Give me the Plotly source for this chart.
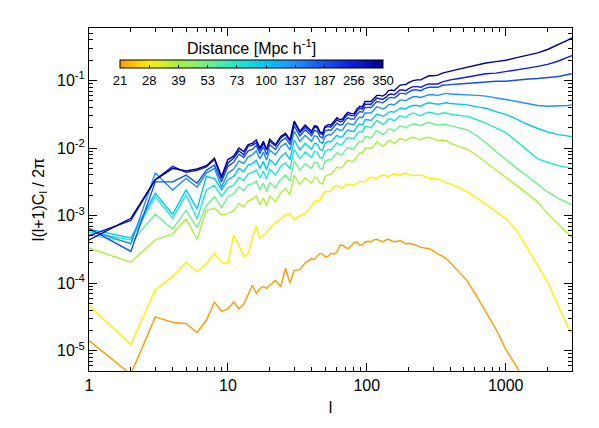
import math
import plotly.graph_objects as go

# multipole grid (shared by all curves)
ell = [1, 2, 3, 4, 5, 6, 7, 8, 9, 10,
       11, 12, 13, 14, 15, 16, 17, 18, 19, 20,
       22, 24, 26, 28, 30, 33, 36,
       40, 42, 44, 46, 48, 50, 53, 55, 58, 61,
       64, 67, 70, 73, 77, 81, 85, 89, 93, 97,
       102, 107, 112, 118, 124, 130, 137, 143, 150, 157,
       165, 173, 182, 191, 200, 215, 230, 245, 260, 280,
       300, 325, 350, 375, 400,
       460, 530, 620, 720, 850, 1000, 1200, 1400, 1700, 2000,
       2400, 2800, 3000]

distance_labels = ["21", "28", "39", "53", "73", "100", "137", "187", "256", "350"]
line_colors = ["#FF9A00", "#FFF000", "#AAF03C", "#70EE8C", "#22E8D0",
               "#00C8F5", "#1E90FF", "#1450F0", "#0A1EDC", "#00008B"]

# log10 of l(l+1)C_l/2pi
log_d21 = [-4.85, -5.35, -4.50, -4.58, -4.60, -4.73, -4.55, -4.28, -4.42, -4.38,
           -4.28, -4.38, -4.31, -4.16, -4.03, -4.15, -4.08, -4.05, -4.08, -4.03,
           -3.96, -4.05, -3.78, -4.00, -3.81, -3.80, -3.70,
           -3.64, -3.65, -3.60, -3.56, -3.57, -3.61, -3.60, -3.56, -3.57, -3.54,
           -3.44, -3.44, -3.47, -3.49, -3.45, -3.40, -3.39, -3.44, -3.43, -3.39,
           -3.38, -3.39, -3.36, -3.35, -3.37, -3.39, -3.36, -3.35, -3.37, -3.39,
           -3.38, -3.37, -3.39, -3.42, -3.41, -3.42, -3.44, -3.47, -3.48, -3.49,
           -3.52, -3.57, -3.60, -3.64, -3.70,
           -3.84, -3.97, -4.20, -4.42, -4.68, -4.98, -5.24, -5.50, -5.85, None,
           None, None, None]
log_d28 = [-4.33, -4.91, -4.10, -3.90, -3.69, -3.83, -3.71, -3.56, -3.69, -3.71,
           -3.29, -3.44, -3.61, -3.56, -3.34, -3.15, -3.34, -3.30, -3.25, -3.19,
           -3.10, -3.05, -2.99, -2.97, -3.06, -3.00, -2.97,
           -2.86, -2.79, -2.78, -2.77, -2.69, -2.65, -2.64, -2.64, -2.57, -2.55,
           -2.58, -2.59, -2.55, -2.53, -2.54, -2.55, -2.52, -2.49, -2.50, -2.50,
           -2.46, -2.43, -2.44, -2.45, -2.42, -2.40, -2.41, -2.42, -2.40, -2.38,
           -2.39, -2.40, -2.38, -2.37, -2.39, -2.41, -2.40, -2.40, -2.42, -2.45,
           -2.45, -2.46, -2.49, -2.52, -2.53,
           -2.59, -2.65, -2.74, -2.83, -2.93, -3.04, -3.22, -3.45, -3.72, -3.98,
           -4.35, -4.65, -4.74]
log_d39 = [-3.48, -3.69, -3.36, -3.27, -3.05, -3.35, -2.92, -2.89, -2.99, -2.97,
           -2.93, -2.82, -2.87, -2.78, -2.76, -2.71, -2.84, -2.74, -2.86, -2.71,
           -2.79, -2.66, -2.60, -2.69, -2.40, -2.54, -2.44,
           -2.52, -2.43, -2.44, -2.52, -2.53, -2.42, -2.39, -2.39, -2.33, -2.28,
           -2.30, -2.28, -2.22, -2.18, -2.20, -2.19, -2.12, -2.07, -2.08, -2.00,
           -1.99, -2.01, -1.97, -1.91, -1.94, -1.97, -1.94, -1.89, -1.90, -1.93,
           -1.90, -1.86, -1.87, -1.89, -1.86, -1.84, -1.86, -1.88, -1.85, -1.84,
           -1.86, -1.89, -1.88, -1.89, -1.93,
           -1.97, -2.02, -2.11, -2.21, -2.33, -2.44, -2.56, -2.66, -2.80, -2.97,
           -3.13, -3.26, -3.32]
log_d53 = [-3.28, -3.40, -2.98, -3.20, -2.92, -3.18, -2.85, -2.72, -2.88, -2.72,
           -2.68, -2.57, -2.63, -2.54, -2.53, -2.49, -2.62, -2.52, -2.65, -2.51,
           -2.59, -2.46, -2.40, -2.49, -2.19, -2.33, -2.23,
           -2.30, -2.21, -2.22, -2.30, -2.31, -2.20, -2.17, -2.18, -2.12, -2.07,
           -2.10, -2.09, -2.03, -1.99, -2.01, -2.01, -1.94, -1.90, -1.91, -1.83,
           -1.83, -1.85, -1.80, -1.74, -1.77, -1.80, -1.77, -1.72, -1.72, -1.75,
           -1.71, -1.67, -1.68, -1.70, -1.67, -1.64, -1.65, -1.67, -1.64, -1.62,
           -1.64, -1.66, -1.65, -1.65, -1.67,
           -1.70, -1.73, -1.82, -1.92, -2.05, -2.17, -2.30, -2.40, -2.54, -2.65,
           -2.75, -2.81, -2.84]
log_d73 = [-3.24, -3.36, -2.72, -3.04, -2.69, -3.05, -2.62, -2.55, -2.72, -2.59,
           -2.55, -2.43, -2.48, -2.38, -2.36, -2.32, -2.44, -2.34, -2.46, -2.31,
           -2.40, -2.27, -2.22, -2.31, -2.02, -2.16, -2.06,
           -2.14, -2.05, -2.06, -2.14, -2.15, -2.05, -2.02, -2.03, -1.97, -1.92,
           -1.95, -1.94, -1.88, -1.84, -1.86, -1.86, -1.79, -1.75, -1.76, -1.68,
           -1.68, -1.70, -1.65, -1.59, -1.62, -1.65, -1.62, -1.57, -1.57, -1.60,
           -1.56, -1.52, -1.53, -1.55, -1.51, -1.48, -1.50, -1.52, -1.49, -1.47,
           -1.48, -1.50, -1.48, -1.48, -1.50,
           -1.51, -1.53, -1.58, -1.63, -1.70, -1.77, -1.90, -2.02, -2.16, -2.21,
           -2.26, -2.29, -2.30]
log_d100 = [-3.20, -3.33, -2.67, -2.98, -2.62, -2.90, -2.42, -2.45, -2.62, -2.47,
            -2.42, -2.30, -2.35, -2.25, -2.23, -2.18, -2.30, -2.20, -2.32, -2.17,
            -2.25, -2.13, -2.07, -2.17, -1.88, -2.03, -1.93,
            -2.02, -1.93, -1.94, -2.02, -2.03, -1.93, -1.90, -1.91, -1.85, -1.81,
            -1.84, -1.83, -1.77, -1.73, -1.75, -1.75, -1.68, -1.64, -1.66, -1.58,
            -1.58, -1.59, -1.55, -1.50, -1.51, -1.53, -1.51, -1.47, -1.46, -1.47,
            -1.44, -1.41, -1.41, -1.42, -1.39, -1.37, -1.37, -1.38, -1.35, -1.33,
            -1.34, -1.35, -1.34, -1.33, -1.34,
            -1.35, -1.36, -1.39, -1.41, -1.46, -1.50, -1.57, -1.64, -1.71, -1.76,
            -1.80, -1.82, -1.83]
log_d137 = [-3.21, -3.42, -2.37, -2.62, -2.45, -2.58, -2.37, -2.30, -2.58, -2.37,
            -2.31, -2.19, -2.23, -2.13, -2.10, -2.04, -2.16, -2.06, -2.18, -2.03,
            -2.10, -1.98, -1.93, -2.03, -1.75, -1.90, -1.81,
            -1.90, -1.82, -1.83, -1.91, -1.93, -1.83, -1.80, -1.81, -1.76, -1.71,
            -1.74, -1.73, -1.67, -1.63, -1.65, -1.65, -1.58, -1.54, -1.55, -1.48,
            -1.48, -1.48, -1.44, -1.39, -1.40, -1.42, -1.40, -1.36, -1.35, -1.36,
            -1.33, -1.29, -1.29, -1.30, -1.27, -1.24, -1.24, -1.25, -1.23, -1.21,
            -1.21, -1.22, -1.20, -1.19, -1.20,
            -1.21, -1.21, -1.22, -1.23, -1.26, -1.28, -1.31, -1.34, -1.37, -1.38,
            -1.38, -1.37, -1.36]
log_d187 = [-3.19, -3.53, -2.50, -2.50, -2.40, -2.52, -2.33, -2.25, -2.50, -2.27,
            -2.21, -2.09, -2.14, -2.04, -2.02, -1.96, -2.08, -1.98, -2.10, -1.95,
            -2.02, -1.90, -1.85, -1.95, -1.67, -1.82, -1.73,
            -1.82, -1.74, -1.75, -1.83, -1.85, -1.75, -1.73, -1.74, -1.68, -1.63,
            -1.66, -1.65, -1.59, -1.55, -1.57, -1.57, -1.50, -1.46, -1.47, -1.40,
            -1.40, -1.40, -1.36, -1.31, -1.32, -1.33, -1.30, -1.26, -1.25, -1.26,
            -1.23, -1.19, -1.19, -1.20, -1.17, -1.14, -1.14, -1.15, -1.12, -1.10,
            -1.10, -1.10, -1.07, -1.06, -1.06,
            -1.05, -1.04, -1.03, -1.02, -1.01, -1.01, -0.99, -0.98, -0.97, -0.96,
            -0.94, -0.91, -0.90]
log_d256 = [-3.30, -3.07, -2.47, -2.27, -2.36, -2.33, -2.28, -2.17, -2.45, -2.22,
            -2.15, -2.04, -2.10, -1.97, -1.96, -1.92, -2.03, -1.93, -2.03, -1.90,
            -1.97, -1.85, -1.80, -1.90, -1.62, -1.77, -1.69,
            -1.78, -1.69, -1.70, -1.78, -1.80, -1.70, -1.68, -1.69, -1.63, -1.58,
            -1.61, -1.60, -1.54, -1.50, -1.52, -1.52, -1.45, -1.41, -1.42, -1.35,
            -1.35, -1.35, -1.31, -1.26, -1.27, -1.28, -1.25, -1.21, -1.20, -1.21,
            -1.18, -1.14, -1.14, -1.15, -1.12, -1.09, -1.09, -1.10, -1.07, -1.05,
            -1.05, -1.05, -1.02, -1.00, -0.99,
            -0.97, -0.95, -0.92, -0.90, -0.89, -0.87, -0.84, -0.82, -0.79, -0.76,
            -0.71, -0.66, -0.63]
log_d350 = [-3.36, -3.04, -2.47, -2.30, -2.34, -2.31, -2.26, -2.15, -2.42, -2.17,
            -2.12, -2.00, -2.05, -1.95, -1.93, -1.88, -2.00, -1.90, -2.02, -1.87,
            -1.95, -1.83, -1.78, -1.88, -1.60, -1.75, -1.66,
            -1.75, -1.67, -1.68, -1.76, -1.78, -1.68, -1.65, -1.66, -1.60, -1.55,
            -1.58, -1.57, -1.51, -1.47, -1.49, -1.49, -1.42, -1.38, -1.39, -1.31,
            -1.31, -1.31, -1.27, -1.22, -1.22, -1.23, -1.20, -1.15, -1.14, -1.15,
            -1.11, -1.07, -1.06, -1.06, -1.03, -1.00, -0.99, -0.99, -0.96, -0.93,
            -0.93, -0.92, -0.89, -0.87, -0.86,
            -0.83, -0.80, -0.77, -0.74, -0.72, -0.70, -0.66, -0.63, -0.59, -0.54,
            -0.47, -0.40, -0.37]

series = [log_d21, log_d28, log_d39, log_d53, log_d73,
          log_d100, log_d137, log_d187, log_d256, log_d350]
assert all(len(s) == len(ell) for s in series)

FONT = "Liberation Sans, Arial, Helvetica, sans-serif"

# the page puts the figure 8px in from the window corner
W, H = 591, 420
ML, MR, MT, MB = 81, 27, 20, 57
PW = W - ML - MR
PH = H - MT - MB

fig = go.Figure()
for vals, col in zip(series, line_colors):
    fig.add_trace(go.Scatter(
        x=ell, y=[None if v is None else 10 ** v for v in vals],
        mode="lines", line=dict(color=col, width=1.4),
        showlegend=False, hoverinfo="skip"))

# colour bar for distance (bar spans window x 120..383, y 60..68)
cscale = [[i / 9, c] for i, c in enumerate(line_colors)]
fig.add_trace(go.Scatter(
    x=[None], y=[None], mode="markers", showlegend=False, hoverinfo="skip",
    marker=dict(color=[0], cmin=0, cmax=9, colorscale=cscale, showscale=True,
                colorbar=dict(orientation="h", x=(120 - 89) / PW, xanchor="left",
                              y=(371 - 60) / PH, yanchor="top", lenmode="pixels", len=263,
                              thicknessmode="pixels", thickness=8,
                              outlinewidth=1, outlinecolor="black",
                              tickvals=list(range(10)), ticktext=distance_labels,
                              ticks="inside", ticklen=3, tickcolor="black",
                              tickfont=dict(family=FONT, size=13, color="black"),
                              xpad=0, ypad=0))))
fig.add_annotation(text="Distance [Mpc h<sup>-1</sup>]", xref="paper", yref="paper",
                   x=(251.5 - 89) / PW, y=(371 - 47) / PH, xanchor="center", yanchor="middle",
                   showarrow=False, font=dict(family=FONT, size=16, color="black"))

x_minor = [m * 10 ** e for e in range(0, 4) for m in range(2, 10) if m * 10 ** e <= 3000]
y_minor = [m * 10.0 ** e for e in range(-6, 0) for m in range(2, 10)]

fig.update_xaxes(type="log", range=[0, math.log10(3000)],
                 showline=True, linecolor="black", linewidth=1, mirror="allticks",
                 ticks="inside", ticklen=8, tickcolor="black", tickwidth=1,
                 tickvals=[1, 10, 100, 1000], ticktext=["1", "10", "100", "1000"],
                 minor=dict(ticks="inside", ticklen=4, tickcolor="black", tickvals=x_minor),
                 showgrid=False, zeroline=False, automargin=False,
                 tickfont=dict(family=FONT, size=16, color="black"),
                 title=dict(text="l", font=dict(family=FONT, size=16, color="black"), standoff=8))
fig.update_yaxes(type="log", range=[math.log10(5e-6), math.log10(0.6)],
                 showline=True, linecolor="black", linewidth=1, mirror="allticks",
                 ticks="inside", ticklen=8, tickcolor="black", tickwidth=1,
                 tickvals=[1e-5, 1e-4, 1e-3, 1e-2, 1e-1],
                 ticktext=["10<sup>-5</sup>", "10<sup>-4</sup>", "10<sup>-3</sup>",
                           "10<sup>-2</sup>", "10<sup>-1</sup>"],
                 minor=dict(ticks="inside", ticklen=4, tickcolor="black", tickvals=y_minor),
                 showgrid=False, zeroline=False, automargin=False,
                 tickfont=dict(family=FONT, size=16, color="black"),
                 title=dict(text="l(l+1)C<sub>l</sub> / 2π",
                            font=dict(family=FONT, size=16, color="black"), standoff=8))

fig.update_layout(width=W, height=H,
                  margin=dict(l=ML, r=MR, t=MT, b=MB),
                  plot_bgcolor="white", paper_bgcolor="white",
                  font=dict(family=FONT, color="black"))

fig.write_html("out.html")
